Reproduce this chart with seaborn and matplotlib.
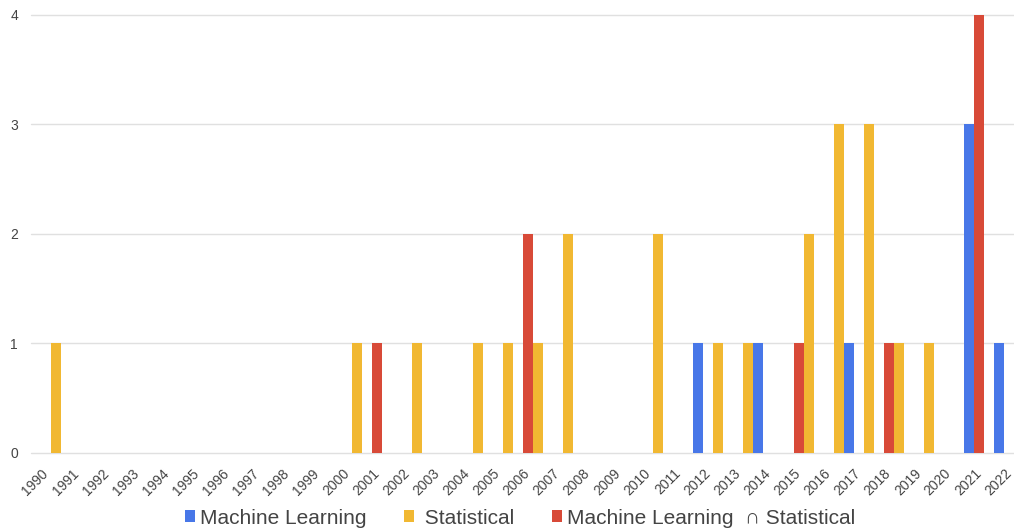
import matplotlib
matplotlib.use("Agg")
import matplotlib.pyplot as plt
from matplotlib.patches import Patch
import pandas as pd
import seaborn as sns

# Publications per year, by approach
years = list(range(1990, 2023))
machine_learning = [0, 0, 0, 0, 0, 0, 0, 0, 0, 0,
                    0, 0, 0, 0, 0, 0, 0, 0, 0, 0,
                    0, 0, 1, 0, 1, 0, 0, 1, 0, 0,
                    0, 3, 1]
statistical = [1, 0, 0, 0, 0, 0, 0, 0, 0, 0,
               1, 0, 1, 0, 1, 1, 1, 2, 0, 0,
               2, 0, 1, 1, 0, 2, 3, 3, 1, 1,
               0, 0, 0]
ml_and_statistical = [0, 0, 0, 0, 0, 0, 0, 0, 0, 0,
                      0, 1, 0, 0, 0, 0, 2, 0, 0, 0,
                      0, 0, 0, 0, 0, 1, 0, 0, 1, 0,
                      0, 4, 0]

series_names = ["Machine Learning", "Statistical", "Machine Learning ∩ Statistical"]
legend_labels = ["Machine Learning", " Statistical", "Machine Learning  ∩ Statistical"]
colors = ["#4877E8", "#F1B832", "#D84A38"]
y_ticks = [0, 1, 2, 3, 4]

df = pd.DataFrame({
    "year": [str(y) for y in years] * 3,
    "series": [series_names[0]] * len(years) + [series_names[1]] * len(years)
              + [series_names[2]] * len(years),
    "count": machine_learning + statistical + ml_and_statistical,
})

sns.set_style("white")
plt.rcParams["font.family"] = ["Liberation Sans", "DejaVu Sans"]

W, H = 1014, 530
fig = plt.figure(figsize=(W / 100, H / 100), dpi=100)
left_px, right_px, top_px, bottom_px = 31.25, 1024.2, 15.0, 452.7
ax = fig.add_axes([left_px / W, 1 - bottom_px / H,
                   (right_px - left_px) / W, (bottom_px - top_px) / H])

palette = dict(zip(series_names, colors))
sns.barplot(data=df, x="year", y="count", hue="series",
            hue_order=[series_names[0], series_names[2], series_names[1]],
            palette=palette, width=1.0, gap=0, errorbar=None,
            saturation=1, linewidth=0, legend=False, ax=ax)

ax.set_xlim(-0.5, len(years) - 0.5)
ax.set_ylim(0, 4)
ax.set_yticks(y_ticks)
ax.set_xlabel("")
ax.set_ylabel("")
for s in ax.spines.values():
    s.set_visible(False)

ax.set_axisbelow(True)
ax.yaxis.grid(True, color="#e0e0e0", linewidth=1.0)
ax.xaxis.grid(False)
for gl in ax.get_ygridlines():
    gl.set_clip_on(False)

ax.tick_params(axis="y", length=0, pad=9.5, labelsize=10, labelcolor="#444444")
ax.tick_params(axis="x", length=0, pad=13.5, labelsize=10, labelcolor="#444444",
               labelrotation=45)
for lab in ax.get_xticklabels():
    lab.set_ha("right")
    lab.set_va("center")
    lab.set_rotation_mode("anchor")

handles = [Patch(facecolor=c, edgecolor="none") for c in colors]
fig.legend(handles, legend_labels, loc="center left",
           bbox_to_anchor=(185 / W, 1 - 518 / H), ncol=3, frameon=False,
           fontsize=15, labelcolor="#444444", handlelength=0.48,
           handleheight=0.48, handletextpad=0.25, columnspacing=1.8,
           borderpad=0, borderaxespad=0)

fig.savefig("out.png", dpi=100)
